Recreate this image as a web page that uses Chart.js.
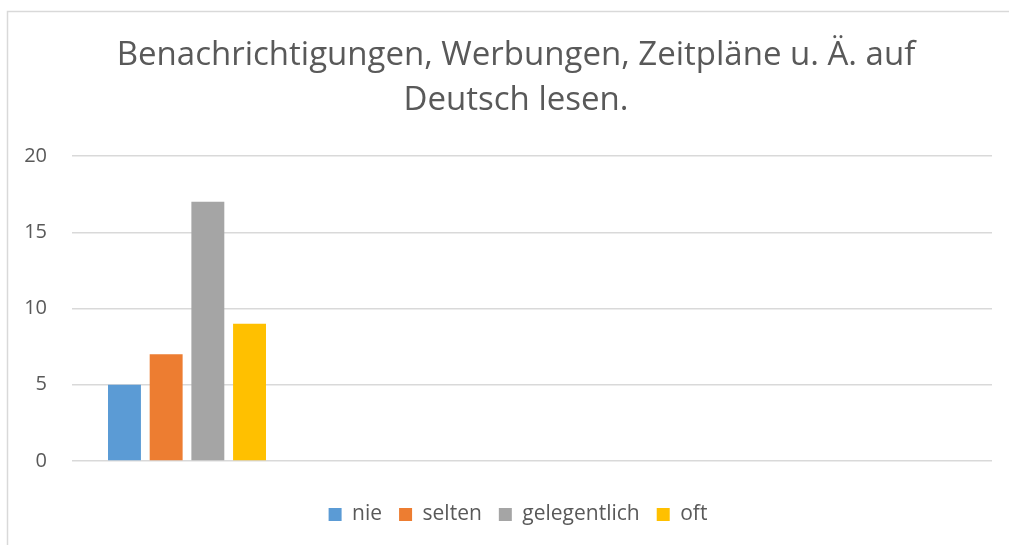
<!DOCTYPE html>
<html>
<head>
<meta charset="utf-8">
<script src="https://cdn.jsdelivr.net/npm/chart.js@4/dist/chart.umd.min.js"></script>
<style>
html,body{margin:0;padding:0;background:#fff;}
#wrap{width:1009px;height:545px;position:relative;}
</style>
</head>
<body>
<div id="wrap"><canvas id="c" width="1009" height="545"></canvas></div>
<script>
const categories = ['', '', '', ''];
const seriesNames = ['nie', 'selten', 'gelegentlich', 'oft'];
const nie = [5, null, null, null];
const selten = [7, null, null, null];
const gelegentlich = [17, null, null, null];
const oft = [9, null, null, null];
const yTicks = [0, 5, 10, 15, 20];
const titleLines = ['Benachrichtigungen, Werbungen, Zeitpläne u. Ä. auf', 'Deutsch lesen.'];

const colors = ['#5b9bd5', '#ed7d31', '#a5a5a5', '#ffc000'];
const seriesData = [nie, selten, gelegentlich, oft];
const FONT = "'Open Sans', sans-serif";

const borderPlugin = {
  id: 'outerBorder',
  beforeDraw(chart) {
    const ctx = chart.ctx;
    ctx.save();
    ctx.fillStyle = '#fff';
    ctx.fillRect(0, 0, chart.width, chart.height);
    ctx.strokeStyle = '#d9d9d9';
    ctx.lineWidth = 1.5;
    ctx.strokeRect(7.5, 11.5, 1020, 560);
    ctx.restore();
  }
};

// Excel centres title and legend slightly right of the canvas centre
const blockShift = {
  id: 'blockShift',
  afterLayout(chart) {
    if (chart.legend) {
      chart.legend.left += 17;
      chart.legend.right += 17;
    }
    if (chart.titleBlock) {
      chart.titleBlock.left += 15;
      chart.titleBlock.right += 15;
    }
  }
};

new Chart(document.getElementById('c'), {
  type: 'bar',
  data: {
    labels: categories,
    datasets: seriesNames.map((n, i) => ({
      label: n,
      data: seriesData[i],
      backgroundColor: colors[i],
      borderWidth: 0,
      categoryPercentage: 0.725,
      barPercentage: 0.79
    }))
  },
  options: {
    responsive: false,
    animation: false,
    devicePixelRatio: 1,
    layout: { padding: { left: 10, right: 17, top: 20, bottom: 10 } },
    plugins: {
      title: {
        display: true,
        text: titleLines,
        color: '#595959',
        font: { family: FONT, size: 33, weight: 'normal', lineHeight: 1.364 },
        padding: { top: 13, bottom: 33 }
      },
      legend: {
        position: 'bottom',
        labels: {
          color: '#595959',
          font: { family: FONT, size: 21 },
          boxWidth: 13,
          boxHeight: 13,
          padding: 17
        }
      },
      tooltip: { enabled: false }
    },
    scales: {
      x: {
        grid: { display: false, drawTicks: false },
        border: { display: false },
        ticks: { display: false },
        afterFit(s) { s.height = 26; }
      },
      y: {
        min: 0,
        max: 20,
        afterBuildTicks(s) { s.ticks = yTicks.map(v => ({ value: v })); },
        afterFit(s) { s.width = 62; },
        grid: { color: '#d9d9d9', lineWidth: 1.5, drawTicks: false },
        border: { display: false },
        ticks: {
          color: '#595959',
          font: { family: FONT, size: 20 },
          padding: 25
        }
      }
    }
  },
  plugins: [borderPlugin, blockShift]
});
</script>
</body>
</html>
